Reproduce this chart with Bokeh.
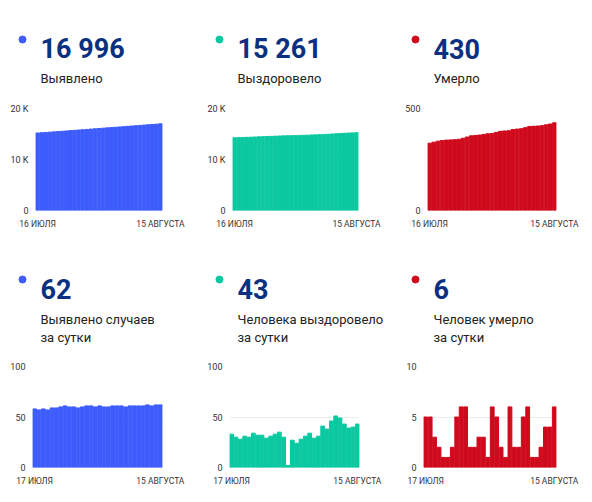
from bokeh.plotting import figure
from bokeh.models import Range1d, FixedTicker
from bokeh.core.properties import value
from bokeh.layouts import column, row
from bokeh.embed import file_html
from bokeh.resources import INLINE

BLUE = "#3d5cfb"
GREEN = "#0bc8a1"
RED = "#cf0a1c"
NAVY = "#0c3080"
FONT = "Roboto"

# cumulative, 16 july .. 15 august
total_cases = [15191, 15249, 15306, 15364, 15421, 15480, 15539, 15599, 15660, 15720,
               15780, 15839, 15899, 15960, 16021, 16081, 16142, 16202, 16262, 16323,
               16384, 16445, 16505, 16566, 16627, 16688, 16749, 16811, 16872, 16934, 16996]
total_recovered = [14257, 14290, 14320, 14348, 14379, 14409, 14443, 14475, 14507, 14536,
                   14567, 14600, 14635, 14665, 14667, 14694, 14718, 14746, 14777, 14811,
                   14840, 14871, 14912, 14950, 14996, 15047, 15096, 15139, 15178, 15218, 15261]
total_deaths = [330, 335, 340, 343, 345, 346, 347, 349, 354, 360,
                366, 368, 370, 373, 376, 377, 383, 388, 390, 391,
                397, 399, 401, 406, 412, 413, 414, 416, 420, 424, 430]

# per day, 17 july .. 15 august
daily_cases = [58, 57, 58, 57, 59, 59, 60, 61, 60, 60,
               59, 60, 61, 61, 60, 61, 60, 60, 61, 61,
               61, 60, 61, 61, 61, 61, 62, 61, 62, 62]
daily_recovered = [33, 30, 28, 31, 30, 34, 32, 32, 29, 31,
                   33, 35, 30, 2, 27, 24, 28, 31, 34, 29,
                   31, 41, 38, 46, 51, 49, 43, 39, 40, 43]
daily_deaths = [5, 5, 3, 2, 1, 1, 2, 5, 6, 6,
                2, 2, 3, 3, 1, 6, 5, 2, 1, 6,
                2, 2, 5, 6, 1, 1, 2, 4, 4, 6]

total_dates = ["16 ИЮЛЯ", "15 АВГУСТА"]
daily_dates = ["17 ИЮЛЯ", "15 АВГУСТА"]

headlines = ["16 996", "15 261", "430", "62", "43", "6"]
captions = [["Выявлено"], ["Выздоровело"], ["Умерло"],
            ["Выявлено случаев", "за сутки"],
            ["Человека выздоровело", "за сутки"],
            ["Человек умерло", "за сутки"]]

big_ticks = [0, 10000, 20000]
big_tick_labels = {10000: "10 K", 20000: "20 K"}
death_ticks = [0, 500]
daily_ticks = [0, 50, 100]
daily_death_ticks = [0, 5, 10]

widths = [204, 196, 192]


def header(width, height, color, number, caption, num_x, num_y, cap_ys):
    h = figure(width=width, height=height, output_backend="svg", toolbar_location=None,
               x_range=Range1d(0, width), y_range=Range1d(height, 0),
               x_axis_location=None, y_axis_location=None,
               min_border=0)
    h.outline_line_color = None
    h.grid.grid_line_color = None
    h.scatter(x=[num_x - 18], y=[num_y - 9], size=7, color=color)
    h.text(x=[num_x], y=[num_y], text=[number], text_font=value(FONT),
           text_font_size="27px", text_font_style="bold", text_color=NAVY,
           text_baseline="alphabetic")
    h.text(x=[num_x] * len(caption), y=cap_ys[:len(caption)], text=caption,
           text_font=value(FONT), text_font_size="13px", text_color="#222222",
           text_baseline="alphabetic")
    return h


def chart(values, color, ticks, tick_labels, dates, width, height, left, right, top, bottom):
    n = len(values)
    p = figure(width=width, height=height, output_backend="svg", toolbar_location=None,
               x_range=Range1d(-0.5, n - 0.5), y_range=Range1d(0, ticks[-1]),
               min_border_left=left, min_border_right=right,
               min_border_top=top, min_border_bottom=bottom)
    p.vbar(x=list(range(n)), top=values, width=0.86, color=color)
    p.outline_line_color = None
    p.xgrid.grid_line_color = None
    p.ygrid.grid_line_color = "#ededed"
    p.ygrid.ticker = FixedTicker(ticks=ticks)

    p.yaxis.ticker = FixedTicker(ticks=ticks)
    p.yaxis.major_label_overrides = {t: tick_labels.get(t, str(t)) for t in ticks}
    p.xaxis.ticker = FixedTicker(ticks=[0, n - 1])
    p.xaxis.major_label_overrides = {0: dates[0], n - 1: dates[1]}
    for ax in (p.xaxis, p.yaxis):
        ax.axis_line_color = None
        ax.major_tick_line_color = None
        ax.minor_tick_line_color = None
        ax.major_tick_out = 0
        ax.major_tick_in = 0
        ax.major_label_text_font = FONT
        ax.major_label_text_color = "#333333"
    p.yaxis.major_label_text_font_size = "9px"
    p.yaxis.major_label_standoff = 7
    p.xaxis.major_label_text_font_size = "8.5px"
    p.xaxis.major_label_standoff = 8
    return p


h1 = header(widths[0], 102, BLUE, headlines[0], captions[0], 40, 48, [78])
h2 = header(widths[1], 102, GREEN, headlines[1], captions[1], 33, 48, [78])
h3 = header(widths[2], 102, RED, headlines[2], captions[2], 33, 48, [78])

f1 = chart(total_cases, BLUE, big_ticks, big_tick_labels, total_dates, widths[0], 148, 35, 42, 6, 40)
f2 = chart(total_recovered, GREEN, big_ticks, big_tick_labels, total_dates, widths[1], 148, 27, 42, 6, 40)
f3 = chart(total_deaths, RED, death_ticks, {}, total_dates, widths[2], 148, 27, 36, 6, 40)

h4 = header(widths[0], 110, BLUE, headlines[3], captions[3], 40, 38, [69, 87])
h5 = header(widths[1], 110, GREEN, headlines[4], captions[4], 33, 38, [69, 87])
h6 = header(widths[2], 110, RED, headlines[5], captions[5], 33, 38, [69, 87])

f4 = chart(daily_cases, BLUE, daily_ticks, {}, daily_dates, widths[0], 142, 32, 42, 6, 35)
f5 = chart(daily_recovered, GREEN, daily_ticks, {}, daily_dates, widths[1], 142, 25, 41, 6, 35)
f6 = chart(daily_deaths, RED, daily_death_ticks, {}, daily_dates, widths[2], 142, 23, 36, 6, 35)

p = column(row(h1, h2, h3), row(f1, f2, f3), row(h4, h5, h6), row(f4, f5, f6))

open("out.html", "w").write(file_html(p, INLINE))
